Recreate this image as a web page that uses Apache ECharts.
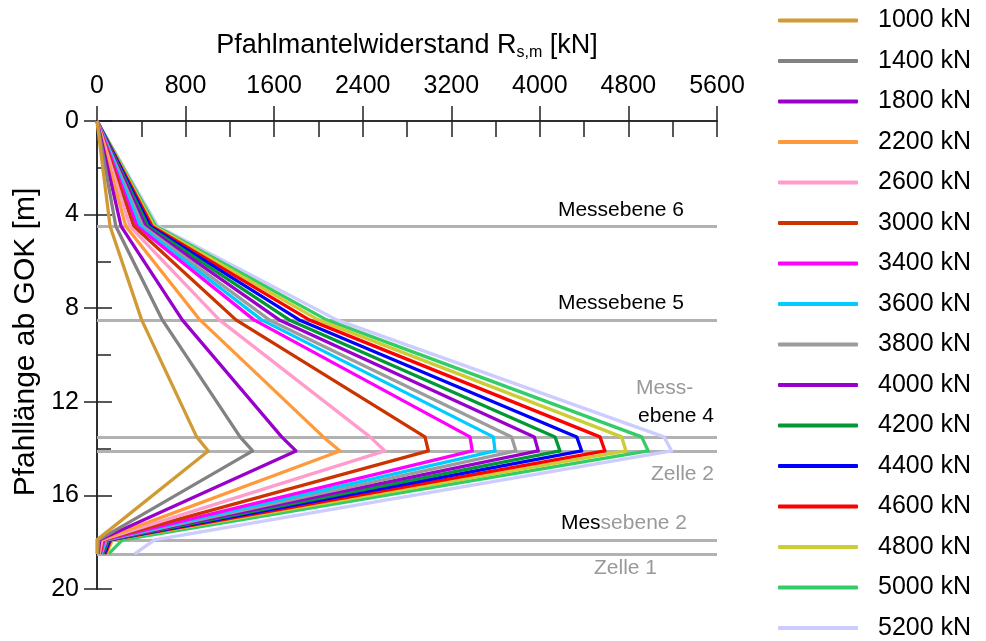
<!DOCTYPE html>
<html>
<head>
<meta charset="utf-8">
<script src="https://cdn.jsdelivr.net/npm/echarts@6/dist/echarts.min.js"></script>
<style>
html, body { margin: 0; padding: 0; background: #fff; }
#container { width: 986px; height: 641px; }
</style>
</head>
<body>
<div id="container"></div>
<script>
// Tiefen der Messpunkte [m]
var depths = [0, 4.5, 8.5, 13.5, 14.1, 17.9, 18.5];

// Laststufen
var loads = ['1000 kN', '1400 kN', '1800 kN', '2200 kN', '2600 kN', '3000 kN', '3400 kN', '3600 kN',
             '3800 kN', '4000 kN', '4200 kN', '4400 kN', '4600 kN', '4800 kN', '5000 kN', '5200 kN'];

// Pfahlmantelwiderstand je Laststufe [kN], Werte an den Tiefen oben
var rs1000 = [0, 118, 403, 900, 1005, 0, 0];
var rs1400 = [0, 170, 590, 1292, 1406, 15, 5];
var rs1800 = [0, 218, 770, 1668, 1797, 25, 10];
var rs2200 = [0, 260, 930, 2044, 2195, 35, 15];
var rs2600 = [0, 298, 1105, 2466, 2601, 45, 20];
var rs3000 = [0, 333, 1255, 2962, 2993, 55, 25];
var rs3400 = [0, 362, 1418, 3369, 3390, 65, 30];
var rs3600 = [0, 390, 1487, 3580, 3595, 75, 35];
var rs3800 = [0, 414, 1556, 3745, 3784, 85, 40];
var rs4000 = [0, 438, 1647, 3950, 3986, 95, 45];
var rs4200 = [0, 460, 1737, 4137, 4182, 105, 55];
var rs4400 = [0, 480, 1827, 4333, 4378, 115, 65];
var rs4600 = [0, 498, 1917, 4543, 4588, 125, 75];
var rs4800 = [0, 515, 1999, 4739, 4778, 140, 85];
var rs5000 = [0, 532, 2074, 4919, 4979, 230, 105];
var rs5200 = [0, 550, 2165, 5121, 5191, 520, 340];

var allValues = [rs1000, rs1400, rs1800, rs2200, rs2600, rs3000, rs3400, rs3600,
                 rs3800, rs4000, rs4200, rs4400, rs4600, rs4800, rs5000, rs5200];

// Messebenen / Zellen (horizontale Linien) [m]
var messLevels = [4.5, 8.5, 13.5, 14.1, 17.9, 18.5];

var colors = ['#d09a36', '#828282', '#9a00cc', '#ff9a3c', '#ff9ccc', '#cc3300', '#ff00ff', '#00ccff',
              '#9c9c9c', '#9a00cc', '#009933', '#0000ff', '#ff0000', '#cccc33', '#33cc66', '#ccccff'];

var dom = document.getElementById("container");
var myChart = echarts.init(dom);

var numFont = "'Liberation Sans Narrow', 'Liberation Sans', Arial, sans-serif";
var txtFont = "'Liberation Sans', Arial, sans-serif";

var series = [];
for (var i = 0; i < loads.length; i++) {
    var pts = [];
    for (var j = 0; j < depths.length; j++) {
        pts.push([allValues[i][j], depths[j]]);
    }
    series.push({
        name: loads[i],
        type: 'line',
        data: pts,
        symbol: 'none',
        showSymbol: false,
        z: 20 - i,
        lineStyle: { color: colors[i], width: 3.3, join: 'round' },
        itemStyle: { color: colors[i] }
    });
}
// graue Linien der Messebenen
series.push({
    name: 'Messebenen',
    type: 'line',
    data: [],
    z: 40,
    markLine: {
        silent: true,
        symbol: ['none', 'none'],
        label: { show: false },
        lineStyle: { color: '#b2b2b2', width: 3, type: 'solid' },
        data: messLevels.map(function (d) { return { yAxis: d }; })
    }
});

var axisLineStyle = { color: '#222', width: 1.5 };
function plain(v) { return String(v); }

// Achse nur fuer die kurzen Zwischenstriche (um die Strichlaenge nach innen versetzt)
function minorAxis(pos, max, step, len) {
    return {
        type: 'value', position: pos, min: 0, max: max, interval: step,
        inverse: (pos === 'left' || pos === 'right'),
        offset: -len,
        axisLine: { show: false },
        axisTick: { show: true, inside: false, length: len, lineStyle: axisLineStyle },
        axisLabel: { show: false },
        splitLine: { show: false }
    };
}

option = {
    animation: false,
    backgroundColor: '#fff',
    grid: { left: 97, right: 269, top: 121, bottom: 52, containLabel: false },
    legend: {
        data: loads,
        orient: 'vertical',
        left: 778,
        top: 8,
        height: 640,
        padding: 0,
        itemWidth: 80,
        itemHeight: 4,
        itemGap: 15.5,
        icon: 'roundRect',
        selectedMode: false,
        textStyle: { fontSize: 25, fontFamily: txtFont, color: '#000', padding: [0, 0, 0, 15] }
    },
    xAxis: [{
        type: 'value',
        position: 'top',
        min: 0, max: 5600, interval: 800,
        name: '{a|Pfahlmantelwiderstand R}{s|s,m}{a| [kN]}',
        nameLocation: 'middle',
        nameGap: 60,
        nameTextStyle: {
            rich: {
                a: { fontSize: 27, fontFamily: numFont, color: '#000' },
                s: { fontSize: 16, fontFamily: numFont, color: '#000', padding: [14, 0, 0, 0] }
            }
        },
        axisLine: { show: true, lineStyle: axisLineStyle },
        axisTick: { show: true, inside: true, length: 15, lineStyle: axisLineStyle },
        axisLabel: { fontSize: 25, fontFamily: numFont, color: '#000', margin: 22, formatter: plain },
        splitLine: { show: false }
    }, {
        type: 'value',
        position: 'bottom',
        min: 0, max: 5600, interval: 800,
        axisLine: { show: true, lineStyle: axisLineStyle },
        axisTick: { show: true, inside: true, length: 15, lineStyle: axisLineStyle },
        axisLabel: { show: false },
        splitLine: { show: false }
    },
    minorAxis('top', 5600, 400, 8),
    minorAxis('bottom', 5600, 400, 8)],
    yAxis: [{
        type: 'value',
        position: 'left',
        inverse: true,
        min: 0, max: 20, interval: 4,
        name: 'Pfahllänge ab GOK [m]',
        nameLocation: 'middle',
        nameGap: 51,
        nameTextStyle: { fontSize: 30, fontFamily: numFont, color: '#000', padding: [0, 0, 0, 26] },
        axisLine: { show: true, lineStyle: axisLineStyle },
        axisTick: { show: true, inside: true, length: 15, lineStyle: axisLineStyle },
        axisLabel: { fontSize: 25, fontFamily: numFont, color: '#000', margin: 18, formatter: plain },
        splitLine: { show: false }
    }, {
        type: 'value',
        position: 'right',
        inverse: true,
        min: 0, max: 20, interval: 4,
        axisLine: { show: true, lineStyle: axisLineStyle },
        axisTick: { show: true, inside: true, length: 13, lineStyle: axisLineStyle },
        axisLabel: { show: false },
        splitLine: { show: false }
    },
    minorAxis('left', 20, 2, 8),
    minorAxis('right', 20, 2, 7)],
    graphic: [
        { type: 'text', right: 986 - 684, top: 200, z: 50,
          style: { text: 'Messebene 6', font: '21px ' + txtFont, fill: '#000' } },
        { type: 'text', right: 986 - 684, top: 293, z: 50,
          style: { text: 'Messebene 5', font: '21px ' + txtFont, fill: '#000' } },
        { type: 'text', left: 636, top: 378, z: 50,
          style: { text: 'Mess-', font: '21px ' + txtFont, fill: '#999' } },
        { type: 'text', right: 986 - 714, top: 406, z: 50,
          style: { text: 'ebene 4', font: '21px ' + txtFont, fill: '#000' } },
        { type: 'text', right: 986 - 714, top: 464, z: 50,
          style: { text: 'Zelle 2', font: '21px ' + txtFont, fill: '#999' } },
        { type: 'text', right: 986 - 687, top: 513, z: 50,
          style: {
              text: '{b|Mes}{g|sebene 2}',
              font: '21px ' + txtFont,
              rich: {
                  b: { fill: '#000', fontSize: 21, fontFamily: txtFont },
                  g: { fill: '#999', fontSize: 21, fontFamily: txtFont }
              }
          } },
        { type: 'text', left: 594, top: 558, z: 50,
          style: { text: 'Zelle 1', font: '21px ' + txtFont, fill: '#999' } }
    ],
    series: series
};

if (option && typeof option === "object") {
    myChart.setOption(option, true);
}
</script>
</body>
</html>
